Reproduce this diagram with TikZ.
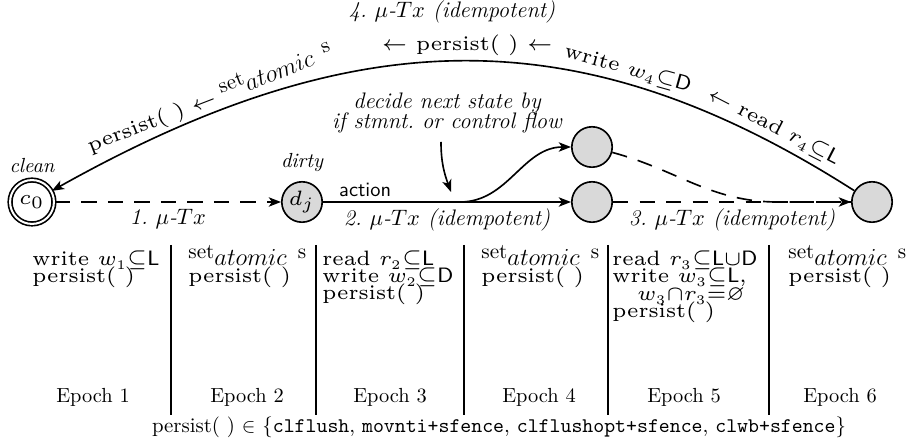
\documentclass[tikz,border=0pt]{standalone}
\usepackage{amssymb}
\usetikzlibrary{arrows.meta}
\newcommand{\sm}[1]{\scalebox{1.7}{\fontsize{6}{7}\selectfont #1}}
\newcommand{\lo}[1]{_{\hbox{\fontsize{3.8}{5}\selectfont #1}}}
\newcommand{\setat}{{\fontsize{10.4}{12}\selectfont\raisebox{3.8pt}{set}{\fontsize{11.6}{13}\selectfont$atomic$}\hspace{5.5pt}\raisebox{3.8pt}{s}}}
\newcommand{\pst}{persist(~)}
\begin{document}
\begin{tikzpicture}[x=0.49pt,y=-0.49pt,
  every node/.style={inner sep=1pt},
  st/.style={circle,draw,thick,fill=gray!30,minimum size=19.8pt,inner sep=0pt},
  acc/.style={circle,draw,thick,double,double distance=1pt,fill=white,minimum size=21.5pt,inner sep=0pt},
  tip/.style={-{Stealth[length=6pt,width=4.6pt,inset=1.6pt]}},
  rtip/.style={{Stealth[length=6pt,width=4.6pt,inset=1.6pt]}-},
  dsh/.style={dash pattern=on 7.5pt off 5.5pt},
  lbl/.style={font=\fontsize{11}{13}\selectfont\itshape},
  cell/.style={anchor=base west,inner sep=0pt},
  ep/.style={anchor=base,inner sep=0pt},
  rule/.style={thick}]
\useasboundingbox (0,0) rectangle (909,447);

% states
\node[acc] (c0) at (32,202) {\sm{$c_0$}};
\node[st] (d) at (302,202) {\sm{$d_j$}};
\node[st] (m1) at (592,202) {};
\node[st] (m2) at (592,147) {};
\node[st] (e) at (872,202) {};
\node[font=\itshape] (clean) at (32,166) {clean};
\node[font=\itshape] (dirty) at (302,163) {dirty};

% lower transitions
\draw[tip,thick,dsh] (c0) -- (d) node[midway,below=2pt,lbl] {1.\ $\mu$-$Tx$};
\draw[tip,thick] (d) -- (m1)
  node[pos=0.17,above=1pt] {\textsf{action}}
  node[midway,below=2pt,lbl] {2.\ $\mu$-$Tx$ (idempotent)};
\coordinate (br) at (460,202);
\draw[tip,thick] (br) to[out=0,in=180] (m2);
\draw[tip,thick,dsh] (m1) -- (e) node[midway,below=2pt,lbl] {3.\ $\mu$-$Tx$ (idempotent)};
\coordinate (mg) at (778,202);
\draw[thick,dsh] (m2) to[out=-15,in=180] (mg) -- (e);

% annotation
\node[lbl,align=center] (ann) at (447,113) {decide next state by\\[-3pt]if stmnt.\ or control flow};
\coordinate (aS) at (441,142);
\coordinate (aT) at (451,192);
\draw[tip,thick] (aS) to[out=-90,in=110] (aT);

% top arc
\node[lbl] (title) at (452,12) {4.\ $\mu$-$Tx$ (idempotent)};
\draw[rtip,thick] (c0) .. controls (360,18) and (584,18) .. (e)
  node[pos=0.185,sloped,above=0pt] {\sm{\pst\ $\leftarrow$} \setat}
  node[pos=0.5,sloped,above=1.5pt] {\sm{$\leftarrow$ \pst\ $\leftarrow$}}
  node[pos=0.705,sloped,above=1pt] {\sm{write $w\lo{4}{\subseteq}\mathsf{D}$}}
  node[pos=0.89,sloped,above=1.2pt] {\sm{$\leftarrow$ read $r\lo{4}{\subseteq}\mathsf{L}$}};

% epochs table
\foreach \x in {171,316,464,608,769} \draw[rule] (\x,245) -- (\x,415);
\node[cell] (a1) at (32,266) {\sm{write $w\lo{1}{\subseteq}\mathsf{L}$}};
\node[cell] (a2) at (32,283) {\sm{\pst}};
\node[cell] (b1) at (188,266) {\setat};
\node[cell] (b2) at (188,283) {\sm{\pst}};
\node[cell] (c1) at (322,266) {\sm{read $r\lo{2}{\subseteq}\mathsf{L}$}};
\node[cell] (c2) at (322,283) {\sm{write $w\lo{2}{\subseteq}\mathsf{D}$}};
\node[cell] (c3) at (322,300) {\sm{\pst}};
\node[cell] (d1) at (481,266) {\setat};
\node[cell] (d2) at (481,283) {\sm{\pst}};
\node[cell] (e1) at (612,266) {\sm{read $r\lo{3}{\subseteq}\mathsf{L}{\cup}\mathsf{D}$}};
\node[cell] (e2) at (612,283) {\sm{write $w\lo{3}{\subseteq}\mathsf{L}$,}};
\node[cell] (e3) at (637,301) {\sm{$w\lo{3}{\cap}r\lo{3}{=}\varnothing$}};
\node[cell] (e4) at (612,318) {\sm{\pst}};
\node[cell] (f1) at (788,266) {\setat};
\node[cell] (f2) at (788,283) {\sm{\pst}};
\node[ep] (p1) at (93,403) {Epoch 1};
\node[ep] (p2) at (247,403) {Epoch 2};
\node[ep] (p3) at (390,403) {Epoch 3};
\node[ep] (p4) at (539,403) {Epoch 4};
\node[ep] (p5) at (684,403) {Epoch 5};
\node[ep] (p6) at (840,403) {Epoch 6};
\node[ep,font=\fontsize{10.2}{12}\selectfont] (foot) at (499,433) {\pst\ $\in$ \{\texttt{clflush}, \texttt{movnti+sfence}, \texttt{clflushopt+sfence}, \texttt{clwb+sfence}\}};
\end{tikzpicture}
\end{document}
